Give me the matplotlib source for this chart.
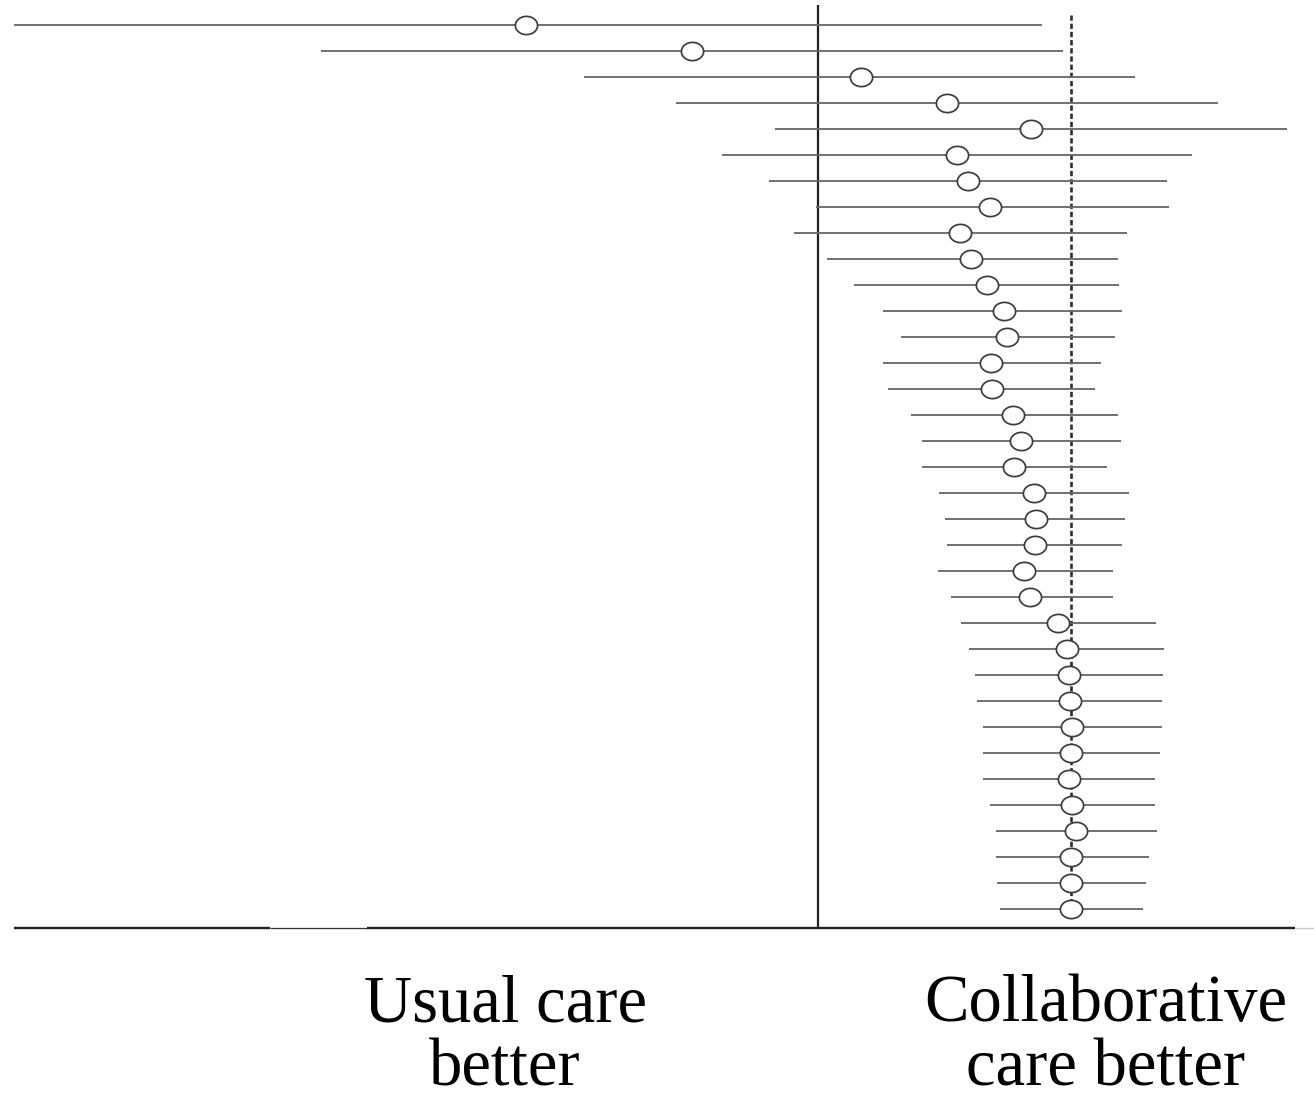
import numpy as np
import matplotlib
matplotlib.use("Agg")
import matplotlib.pyplot as plt
from matplotlib.path import Path

# cumulative effect sizes (standardised mean difference), one row per added trial
est = [-0.289, -0.125, 0.042, 0.127, 0.210, 0.137, 0.148, 0.170, 0.140, 0.151,
       0.167, 0.184, 0.187, 0.171, 0.172, 0.193, 0.201, 0.194, 0.213, 0.215,
       0.214, 0.204, 0.209, 0.237, 0.246, 0.248, 0.249, 0.251, 0.250, 0.248,
       0.251, 0.255, 0.250, 0.250, 0.250]
lo = [-0.820, -0.491, -0.231, -0.140, -0.043, -0.095, -0.048, -0.002, -0.024, 0.009,
      0.036, 0.064, 0.082, 0.064, 0.069, 0.092, 0.103, 0.103, 0.120, 0.125,
      0.127, 0.119, 0.131, 0.141, 0.149, 0.155, 0.157, 0.163, 0.163, 0.163,
      0.170, 0.176, 0.176, 0.177, 0.180]
hi = [0.221, 0.242, 0.313, 0.395, 0.463, 0.370, 0.345, 0.347, 0.305, 0.296,
      0.297, 0.300, 0.293, 0.280, 0.274, 0.296, 0.299, 0.286, 0.307, 0.303,
      0.300, 0.291, 0.291, 0.334, 0.342, 0.341, 0.340, 0.340, 0.338, 0.333,
      0.333, 0.335, 0.327, 0.324, 0.321]
pooled = 0.25

left_label = ["Usual care", "better"]
right_label = ["Collaborative", "care better"]

n = len(est)
rows = np.arange(n)

fig = plt.figure(figsize=(13.14, 10.99), dpi=100)
ax = fig.add_axes([14 / 1314, 0.1556, 1281 / 1314, 0.8399])

# open marker, a bit wider than tall
t = np.linspace(0, 2 * np.pi, 60)
oval = Path(np.column_stack([1.22 * np.cos(t), np.sin(t)]), closed=True)

ax.axvline(0, color="#222222", lw=1.6, zorder=1)
ax.plot([pooled, pooled], [-0.385, n - 1], color="#2e2e2e", lw=1.9,
        dashes=(2.0, 1.1), zorder=1)
ax.hlines(rows, lo, hi, color="#6a6a6a", lw=1.35, zorder=2)
ax.plot(est, rows, ls="none", marker=oval, ms=16, mfc="white",
        mec="#3c3c3c", mew=1.25, zorder=3)

ax.set_xlim(-0.7945, 0.4713)
ax.set_ylim(n - 0.27, -0.77)
ax.set_xticks([])
ax.set_yticks([])
for s in ax.spines.values():
    s.set_visible(False)

# baseline, with its thin stretch on the left
ax.plot([0, 0.1998], [0, 0], transform=ax.transAxes, color="#222222",
        lw=1.7, clip_on=False, solid_capstyle="butt")
ax.plot([0.1998, 0.2756], [0, 0], transform=ax.transAxes, color="#333333",
        lw=0.9, clip_on=False, solid_capstyle="butt")
ax.plot([0.2756, 1], [0, 0], transform=ax.transAxes, color="#222222",
        lw=1.7, clip_on=False, solid_capstyle="butt")
ax.plot([1, 1.0145], [0, 0], transform=ax.transAxes, color="#cccccc",
        lw=1.0, clip_on=False, solid_capstyle="butt")

font = dict(family="Liberation Serif", fontsize=48, ha="center", va="baseline",
            color="black")
fig.text(505 / 1314, 1 - 1021 / 1099, left_label[0], **font)
fig.text(505 / 1314, 1 - 1086 / 1099, left_label[1], **font)
fig.text(1106 / 1314, 1 - 1021 / 1099, right_label[0], **font)
fig.text(1106 / 1314, 1 - 1086 / 1099, right_label[1], **font)

fig.savefig("out.png", dpi=100, facecolor="white")
